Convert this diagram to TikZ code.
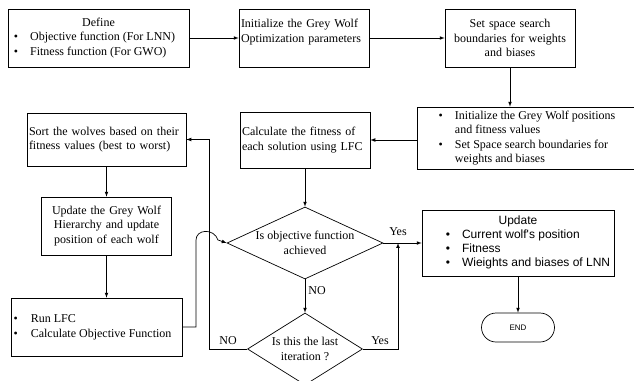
\documentclass[tikz,border=0pt]{standalone}
\usepackage{fontspec}
\setmainfont{Liberation Serif}
\newfontfamily\arialfont{Liberation Sans}
\usetikzlibrary{shapes.geometric}

\begin{document}
\begin{tikzpicture}[x=1pt,y=-1pt,>=latex,line width=0.7pt,
  procbox/.style={draw,inner sep=2pt,font=\fontsize{12}{14.5}\selectfont},
  decision/.style={draw,diamond,inner sep=0pt},
  lbl/.style={font=\fontsize{12}{14.5}\selectfont}]
\useasboundingbox (0,0) rectangle (634,380);

% Top row
\node[procbox,minimum width=181pt,minimum height=58pt] (A) at (98.5,38) {%
  \begin{tabular}{@{}l@{\hspace{12pt}}l@{\hspace{8pt}}}
  \multicolumn{2}{@{}c@{}}{Define}\\
  \textbullet & Objective function (For LNN)\\
  \textbullet & Fitness function (For GWO)
  \end{tabular}};
\node[procbox,text width=126pt,align=left,minimum height=58pt] (B) at (304,38)
  {Initialize the Grey Wolf\\Optimization parameters\\\mbox{}};
\node[procbox,text width=126pt,align=center,minimum height=58pt] (C) at (510,38)
  {Set space search\\boundaries for weights\\and biases};

% Second row
\node[procbox,minimum width=220pt,minimum height=60pt] (D) at (527,138) {%
  \begin{tabular}{@{}l@{\hspace{12pt}}l@{}}
  \textbullet & Initialize the Grey Wolf positions\\
              & and fitness values\\
  \textbullet & Set Space search boundaries for\\
              & weights and biases
  \end{tabular}};
\node[procbox,text width=126pt,align=left,minimum height=56pt] (E) at (305,140)
  {Calculate the fitness of\\each solution using LFC};
\node[procbox,text width=155pt,align=left,minimum height=53pt] (F) at (106.5,139.5)
  {Sort the wolves based on their\\fitness values (best to worst)};

% Left column
\node[procbox,text width=126pt,align=center,minimum height=58pt] (G) at (106.5,226)
  {Update the Grey Wolf\\Hierarchy and update\\position of each wolf};
\node[procbox,minimum width=170pt,minimum height=58pt] (H) at (97,327) {%
  \begin{tabular}{@{}l@{\hspace{13pt}}l@{\hspace{9pt}}}
  \textbullet & Run LFC\\
  \textbullet & Calculate Objective Function
  \end{tabular}};

% Decisions
\node[decision,minimum width=156pt,minimum height=72pt] (I) at (305,243) {};
\node[lbl,align=center] (It) at (I) {Is objective function\\achieved};
\node[decision,minimum width=115pt,minimum height=72pt] (K) at (305,349) {};
\node[lbl,align=center] (Kt) at (K) {Is this the last\\iteration ?};

% Update and END
\node[procbox,minimum width=192pt,minimum height=66pt,font=\arialfont\fontsize{12}{14}\selectfont] (J) at (518,243) {%
  \begin{tabular}{@{\hspace{20pt}}l@{\hspace{12pt}}l@{}}
  \multicolumn{2}{@{}c@{}}{Update}\\
  \textbullet & Current wolf's position\\
  \textbullet & Fitness\\
  \textbullet & Wieights and biases of LNN
  \end{tabular}};
\node[draw,rounded corners=14.5pt,minimum width=73pt,minimum height=29pt,
  font=\arialfont\fontsize{8}{9}\selectfont] (L) at (518,327.5) {END};

% Arrows
\draw[->] (A) -- (B);
\draw[->] (B) -- (C);
\draw[->] (C.south) -- (C.south |- D.north);
\draw[->] (E.east -| D.west) -- (E.east);
\draw[->] (E) -- (I);
\draw[->] (I) -- (K);
\draw[->] (I) -- (J);
\draw[->] (J) -- (L);
\draw[->] (F) -- (G);
\draw[->] (G.south) -- (G.south |- H.north);
\coordinate (Y) at (398,243);
\draw[->] (K.east) -| (Y);
\draw[->] (K.west) -- ++(-38,0) |- (F.east);
\draw[->] (H.east) -- (196,327) -- (196,240)
  .. controls (196,229) and (214,228) .. (218,240) -- (I.west);

% Yes and NO labels
\node[lbl] (y1) at (398,232) {Yes};
\node[lbl] (n1) at (317,291) {NO};
\node[lbl] (y2) at (380,341) {Yes};
\node[lbl] (n2) at (228,341) {NO};

\end{tikzpicture}
\end{document}
